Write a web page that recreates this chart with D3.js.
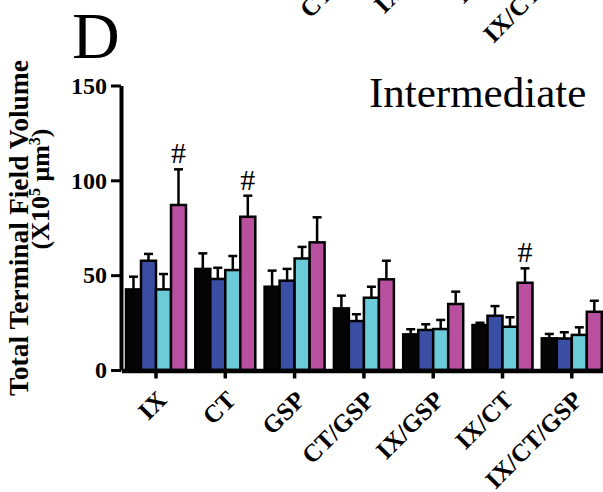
<!DOCTYPE html>
<html>
<head>
<meta charset="utf-8">
<script src="https://cdn.jsdelivr.net/npm/d3@7"></script>
<style>
  html, body { margin: 0; padding: 0; background: #fff; }
  svg { display: block; }
</style>
</head>
<body>
<svg id="chart" width="603" height="492"></svg>
<script>
// ---- data ----
const categories = ["IX", "CT", "GSP", "CT/GSP", "IX/GSP", "IX/CT", "IX/CT/GSP"];
const seriesKeys = ["black", "blue", "cyan", "magenta"];
const blackMeans   = [42.5, 53.3, 43.9, 32.5, 18.8, 23.7, 16.7];
const blueMeans    = [57.6, 48.0, 47.1, 25.8, 21.1, 28.6, 16.6];
const cyanMeans    = [42.5, 52.7, 58.8, 38.1, 21.6, 22.8, 18.5];
const magentaMeans = [87.0, 80.8, 67.3, 47.8, 34.8, 46.0, 30.7];
const blackErr   = [6.7, 8.2, 8.5, 6.7, 2.7, 1.2, 2.3];
const blueErr    = [3.6, 5.9, 6.2, 3.6, 3.0, 5.1, 3.3];
const cyanErr    = [8.1, 7.4, 6.1, 5.8, 4.8, 5.0, 4.0];
const magentaErr = [18.8, 11.1, 13.2, 9.8, 6.5, 7.6, 5.8];
const sigMarks = [["IX", "magenta"], ["CT", "magenta"], ["IX/CT", "magenta"]];
const yTicks = [0, 50, 100, 150];
// labels of the panel above that reach into this picture
const aboveCategories = ["CT/GSP", "IX/GSP", "IX/CT", "IX/CT/GSP"];
const panelLetter = "D";
const panelTitle = "Intermediate";

const colors = { black: "#050505", blue: "#3a4fa3", cyan: "#6ccbd9", magenta: "#b84f9f" };
const means = { black: blackMeans, blue: blueMeans, cyan: cyanMeans, magenta: magentaMeans };
const errs = { black: blackErr, blue: blueErr, cyan: cyanErr, magenta: magentaErr };

const rows = [];
categories.forEach((c, i) => {
  seriesKeys.forEach(k => rows.push({ cat: c, key: k, mean: means[k][i], err: errs[k][i] }));
});

const svg = d3.select("#chart");
const serif = "'Liberation Serif', 'Times New Roman', serif";

const step = 69.3;
const x = d3.scaleBand().domain(categories)
  .range([156 - step / 2, 156 - step / 2 + step * categories.length])
  .paddingInner(0).paddingOuter(0);
const xs = d3.scaleBand().domain(seriesKeys).range([-30, 30]).padding(0);
const y = d3.scaleLinear().domain([0, 150]).range([370, 85.5]);
const cx = c => x(c) + x.bandwidth() / 2;

// bars
svg.append("g").selectAll("rect").data(rows).join("rect")
  .attr("x", d => cx(d.cat) + xs(d.key))
  .attr("y", d => y(d.mean))
  .attr("width", xs.bandwidth())
  .attr("height", d => y(0) - y(d.mean))
  .attr("fill", d => colors[d.key])
  .attr("stroke", "#000")
  .attr("stroke-width", 2.5);

// error bars (upper only)
const eb = svg.append("g").attr("stroke", "#000").attr("stroke-width", 2.5);
eb.selectAll("line.stem").data(rows).join("line").attr("class", "stem")
  .attr("x1", d => cx(d.cat) + xs(d.key) + xs.bandwidth() / 2)
  .attr("x2", d => cx(d.cat) + xs(d.key) + xs.bandwidth() / 2)
  .attr("y1", d => y(d.mean))
  .attr("y2", d => y(d.mean + d.err));
eb.selectAll("line.cap").data(rows).join("line").attr("class", "cap")
  .attr("x1", d => cx(d.cat) + xs(d.key) + xs.bandwidth() / 2 - 4.5)
  .attr("x2", d => cx(d.cat) + xs(d.key) + xs.bandwidth() / 2 + 4.5)
  .attr("y1", d => y(d.mean + d.err))
  .attr("y2", d => y(d.mean + d.err));

// significance marks
svg.append("g").selectAll("text").data(sigMarks).join("text")
  .attr("x", d => cx(d[0]) + xs(d[1]) + xs.bandwidth() / 2)
  .attr("y", d => {
    const r = rows.find(r => r.cat === d[0] && r.key === d[1]);
    return y(r.mean + r.err) - 6;
  })
  .attr("text-anchor", "middle")
  .attr("font-family", serif)
  .attr("font-size", 30)
  .text("#");

// y axis
const yAxis = svg.append("g").attr("transform", "translate(121,0)")
  .call(d3.axisLeft(y).tickValues(yTicks).tickFormat(d3.format("d")).tickSize(10).tickSizeOuter(0).tickPadding(4));
yAxis.select(".domain").attr("stroke-width", 4);
yAxis.selectAll(".tick line").attr("stroke-width", 3);
yAxis.selectAll(".tick text").attr("font-family", serif).attr("font-weight", "bold")
  .attr("font-size", 24).attr("fill", "#000");

// x axis
const xAxis = svg.append("g").attr("transform", "translate(0,370.5)")
  .call(d3.axisBottom(x).tickSize(8).tickSizeOuter(0));
xAxis.select(".domain").attr("stroke-width", 4.5);
xAxis.selectAll(".tick line").attr("stroke-width", 3.5);
xAxis.selectAll(".tick text")
  .attr("x", 0).attr("y", 0).attr("dy", 0)
  .attr("text-anchor", "end")
  .attr("transform", "translate(12,31) rotate(-45)")
  .attr("font-family", serif).attr("font-weight", "bold")
  .attr("font-size", 25).attr("fill", "#000");

// fragment of the panel above (its category labels, cut by the top edge)
const xAbove = x.copy();
svg.append("g").selectAll("text").data(aboveCategories).join("text")
  .attr("text-anchor", "end")
  .attr("transform", d => `translate(${xAbove(d) + xAbove.bandwidth() / 2 + 10},${370.5 - 448 + 33}) rotate(-45)`)
  .attr("font-family", serif).attr("font-weight", "bold")
  .attr("font-size", 25).attr("fill", "#000")
  .text(d => d);

// y-axis title
svg.append("text")
  .attr("transform", "translate(28,228) rotate(-90)")
  .attr("text-anchor", "middle")
  .attr("font-family", serif).attr("font-weight", "bold").attr("font-size", 27.5)
  .text("Total Terminal Field Volume");
const t2 = svg.append("text")
  .attr("transform", "translate(49,189) rotate(-90)")
  .attr("text-anchor", "middle")
  .attr("font-family", serif).attr("font-weight", "bold").attr("font-size", 26);
t2.append("tspan").text("(X10");
t2.append("tspan").attr("font-size", 16).attr("dy", -9).text("5");
t2.append("tspan").attr("dy", 9).text(" μm");
t2.append("tspan").attr("font-size", 16).attr("dy", -9).text("3");
t2.append("tspan").attr("dy", 9).text(")");

// panel letter and title
svg.append("text").attr("x", 72).attr("y", 58)
  .attr("font-family", serif).attr("font-size", 66).text(panelLetter);
svg.append("text").attr("x", 369).attr("y", 107)
  .attr("font-family", serif).attr("font-size", 43).text(panelTitle);
</script>
</body>
</html>
